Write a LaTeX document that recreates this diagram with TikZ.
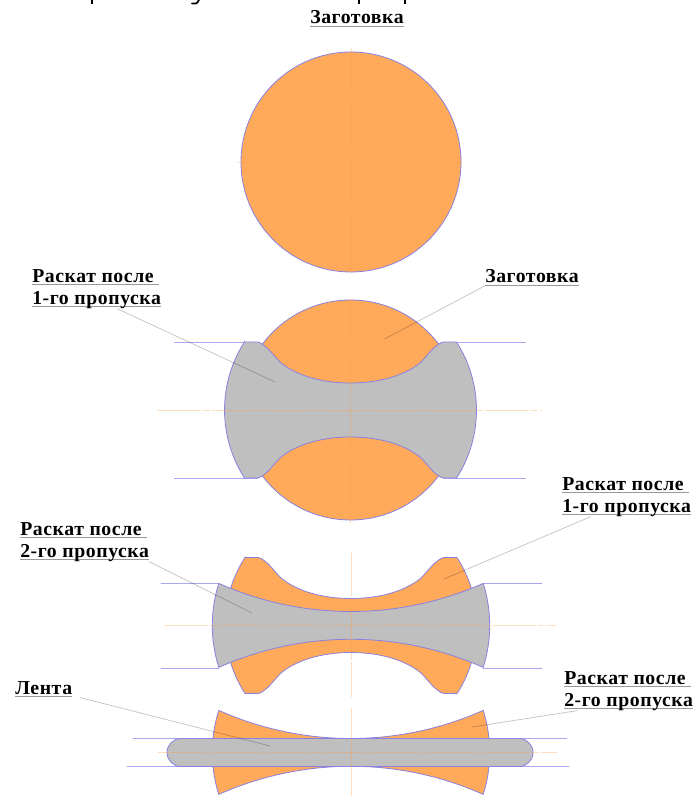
\documentclass[tikz,border=0pt]{standalone}
\usepackage{fontspec}
\newfontfamily\labfont[LetterSpace=3]{Liberation Serif}
\usepackage{xcolor}
\definecolor{metal}{HTML}{FFAA5A}
\definecolor{raskat}{HTML}{BFBFBF}
\definecolor{kontur}{HTML}{8A80E0}
\definecolor{valok}{HTML}{A8A8F0}
\definecolor{os}{HTML}{FF9A3C}
\definecolor{podch}{HTML}{999999}
\newcommand{\podl}[1]{\setbox0\hbox{#1}\rlap{\textcolor{podch}{\rule[-2.4pt]{\wd0}{0.7pt}}}\box0}
% контур раската после 1-го пропуска
\newcommand{\passone}{(-106,68) -- (-93,68)
  .. controls (-90.5,68) and (-89,66.2) .. (-87,65)
  .. controls (-82,62) and (-77,54.5) .. (-70,47.5)
  .. controls (-55,35) and (-30,27) .. (0,27)
  .. controls (30,27) and (55,35) .. (70,47.5)
  .. controls (77,54.5) and (82,62) .. (87,65)
  .. controls (89,66.2) and (90.5,68) .. (93,68)
  -- (106,68) arc[start angle=32.7,end angle=-32.7,radius=126]
  -- (93,-68)
  .. controls (90.5,-68) and (89,-66.2) .. (87,-65)
  .. controls (82,-62) and (77,-54.5) .. (70,-47.5)
  .. controls (55,-35) and (30,-27) .. (0,-27)
  .. controls (-30,-27) and (-55,-35) .. (-70,-47.5)
  .. controls (-77,-54.5) and (-82,-62) .. (-87,-65)
  .. controls (-89,-66.2) and (-90.5,-68) .. (-93,-68)
  -- (-106,-68) arc[start angle=212.7,end angle=147.3,radius=126] -- cycle}
% контур раската после 2-го пропуска
\newcommand{\passtwo}{(-132.2,42.1) arc[start angle=246,end angle=294,radius=325]
  arc[start angle=17.65,end angle=-17.65,radius=138.5]
  arc[start angle=66,end angle=114,radius=325]
  arc[start angle=197.65,end angle=162.35,radius=138.5] -- cycle}

\begin{document}
\begin{tikzpicture}[
    x=0.75pt,y=0.75pt,line cap=round,
    blank/.style={fill=metal,draw=kontur,line width=0.6pt},
    rolled/.style={fill=raskat,draw=kontur,line width=0.6pt},
    roll/.style={valok,line width=0.7pt},
    axis/.style={os,opacity=0.33,line width=0.5pt,dash pattern=on 32pt off 2pt on 5pt off 2pt},
    leader/.style={black,opacity=0.25,line width=0.5pt},
    lab/.style={font=\labfont\bfseries\fontsize{14.8}{16.5}\selectfont,align=left,
                anchor=north west,inner sep=0pt,text=black}]
  \useasboundingbox (0,0) rectangle (694,796);
  % --- заготовка
  \begin{scope}[shift={(351,634)}]
    \draw[blank] (0,0) circle[radius=110];
    \draw[axis] (-113,0) -- (111,0);
    \draw[axis] (0,114) -- (0,-111);
  \end{scope}
  % --- 1-й пропуск
  \begin{scope}[shift={(350.5,386)}]
    \foreach \ys in {68,-68} {
      \draw[roll] (-176,\ys) -- (-93,\ys);
      \draw[roll] (93,\ys) -- (175,\ys);
    }
    \draw[blank] (0,0) circle[radius=110];
    \draw[rolled] \passone;
    \draw[axis] (-193,0) -- (191,0);
    \draw[axis] (0,111) -- (0,-113);
  \end{scope}
  % --- 2-й пропуск
  \begin{scope}[shift={(351,170.5)}]
    \foreach \ys in {42.1,-42.5} {
      \draw[roll] (-190,\ys) -- (-132,\ys);
      \draw[roll] (132,\ys) -- (191,\ys);
    }
    \draw[blank] \passone;
    \draw[rolled] \passtwo;
    \draw[axis] (-186,0) -- (205,0);
    \draw[axis] (0,72.5) -- (0,-71.5);
  \end{scope}
  % --- лента
  \begin{scope}[shift={(351,43.5)}]
    \draw[blank] \passtwo;
    \draw[roll] (-218,14) -- (216,14);
    \draw[roll] (-224,-14) -- (218,-14);
    \draw[rolled] (-170,14) -- (168,14) arc[start angle=90,end angle=-90,radius=14]
      -- (-170,-14) arc[start angle=270,end angle=90,radius=14] -- cycle;
    \draw[axis] (-193,0) -- (206,0);
    \draw[axis] (0,44.5) -- (0,-43.5);
  \end{scope}
  % надписи
  \node[lab] (zagTop) at (310,786) {\podl{Заготовка}};
  \node[lab] (rasA) at (32,527) {\podl{Раскат после }\\\podl{1-го пропуска}};
  \node[lab] (zagB) at (485,527) {\podl{Заготовка}};
  \node[lab] (rasB) at (562,319) {\podl{Раскат после }\\\podl{1-го пропуска}};
  \node[lab] (rasC) at (20,274) {\podl{Раскат после }\\\podl{2-го пропуска}};
  \node[lab] (lenta) at (15,115) {\podl{Лента}};
  \node[lab] (rasD) at (564,125) {\podl{Раскат после }\\\podl{2-го пропуска}};
  % выноски
  \coordinate (endA) at (275,414);
  \coordinate (endB) at (384.5,457);
  \coordinate (endC) at (444,217);
  \coordinate (endD) at (252,183);
  \coordinate (endE) at (270,50);
  \coordinate (endF) at (472,69);
  \draw[leader] ([xshift=15.4pt]rasA.south) -- (endA);
  \draw[leader] (zagB.south west) -- (endB);
  \draw[leader] ([xshift=-27pt]rasB.south) -- (endC);
  \draw[leader] (rasC.south east) -- (endD);
  \draw[leader] ([xshift=6pt]lenta.south east) -- (endE);
  \draw[leader] ([xshift=9.7pt]rasD.south west) -- (endF);
  % обрезанная верхняя строка
  \foreach \xs in {92,359,405}
    \fill (\xs-1,791.5) rectangle (\xs+1,796);
  \draw[line width=1.3pt] (199,796) .. controls (197,792) and (195,791.5) .. (192,792.5);
\end{tikzpicture}
\end{document}
